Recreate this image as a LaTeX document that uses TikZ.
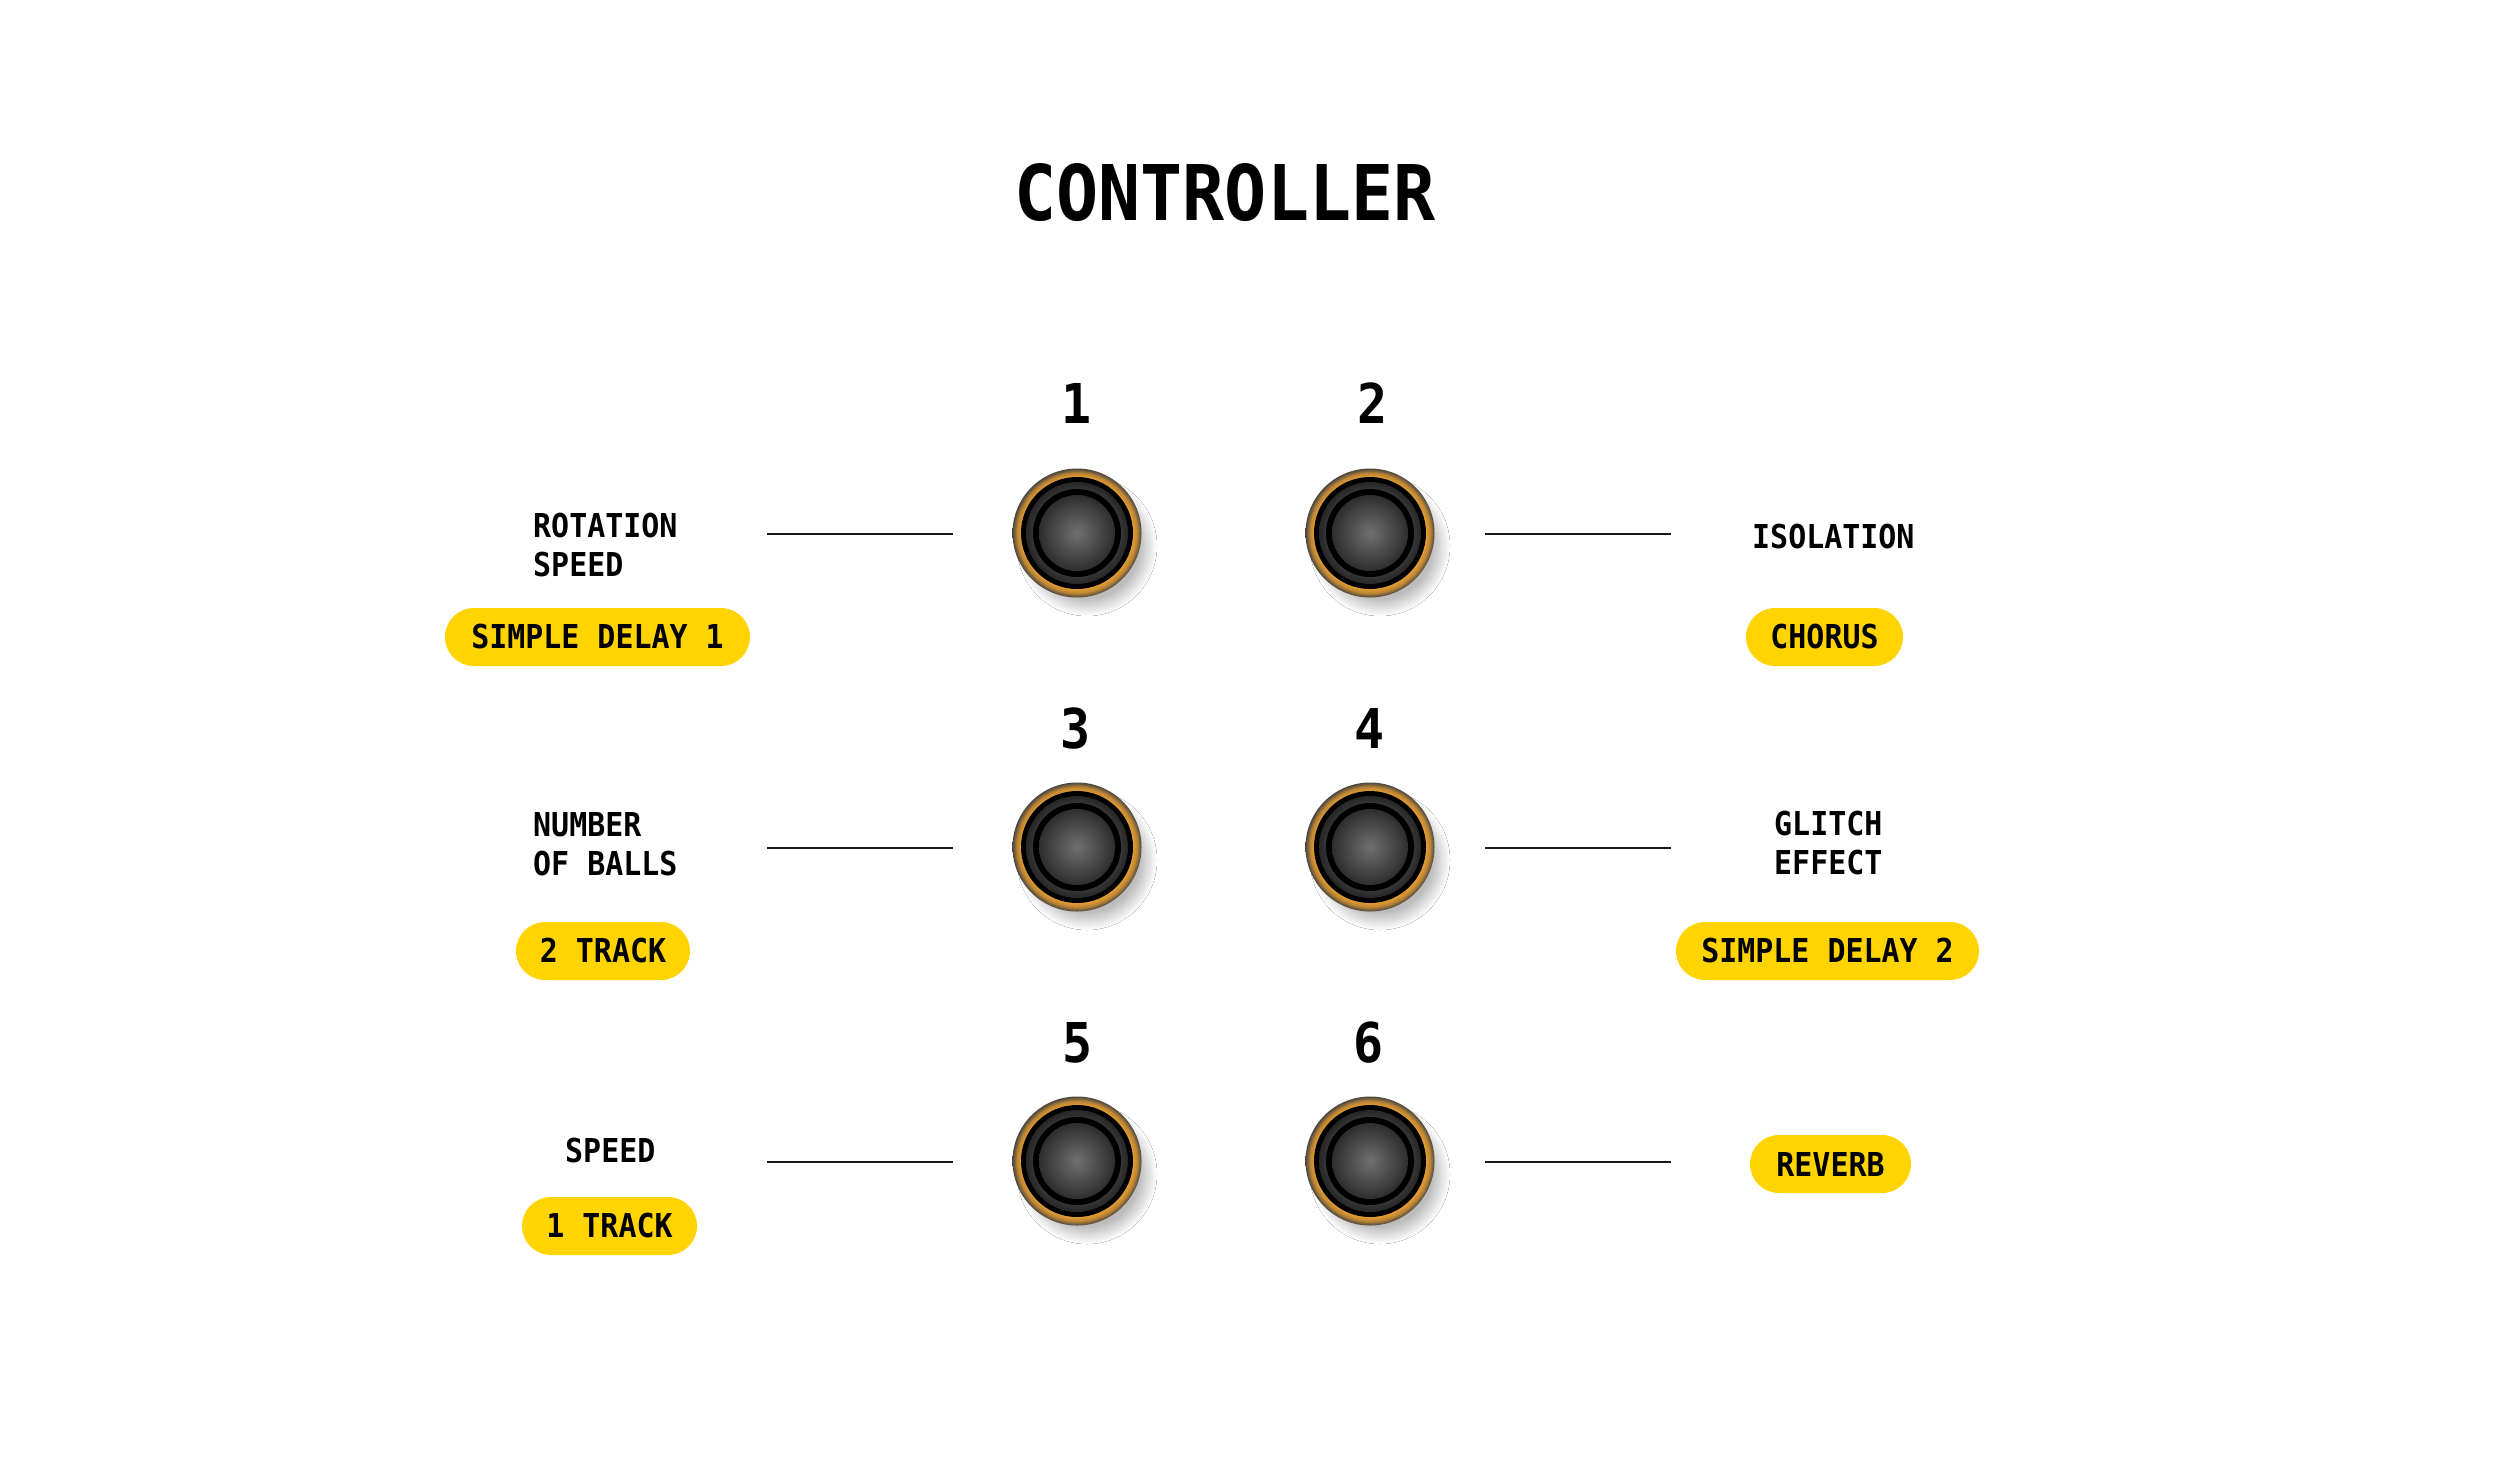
\documentclass[tikz,border=0pt]{standalone}
\usepackage{fontspec}
\newfontfamily\pixfont[FakeStretch=0.91]{DejaVu Sans Mono Bold}
\definecolor{pillyellow}{HTML}{FFD400}
\definecolor{kOr}{HTML}{E9A032}
\definecolor{kOrB}{HTML}{B98434}
\definecolor{kEdge}{HTML}{4A4540}
\definecolor{kMid}{HTML}{3C3C3C}
\definecolor{kCapIn}{HTML}{707070}
\definecolor{kCapOut}{HTML}{2E2E2E}
\pgfdeclareradialshading{knobshadow}{\pgfpoint{0bp}{0bp}}{color(0bp)=(black!28); color(18.5bp)=(black!26); color(25bp)=(white); color(50bp)=(white)}
\pgfdeclareradialshading{knobring}{\pgfpoint{0bp}{0bp}}{color(0bp)=(kOr); color(21.5bp)=(kOr); color(23.3bp)=(kOrB); color(25bp)=(kEdge); color(50bp)=(kEdge)}
\pgfdeclareradialshading{knobmid}{\pgfpoint{0bp}{0bp}}{color(0bp)=(kMid); color(20bp)=(kMid); color(25bp)=(black!85); color(50bp)=(black!85)}
\pgfdeclareradialshading{knobcap}{\pgfpoint{0bp}{0bp}}{color(0bp)=(kCapIn); color(25bp)=(kCapOut); color(50bp)=(kCapOut)}
\tikzset{
  knob/.style={circle, minimum size=129pt, inner sep=0pt, shading=knobring},
  lbl/.style={font=\pixfont\fontsize{32.9}{39}\selectfont, align=left, anchor=west, inner sep=0pt},
  pill/.style={fill=pillyellow, rounded corners=29pt, minimum height=58pt, inner sep=0pt,
               font=\pixfont\fontsize{32.9}{39}\selectfont},
  num/.style={font=\pixfont\fontsize{54.9}{60}\selectfont, inner sep=0pt},
  ttl/.style={font=\pixfont\fontsize{76.8}{80}\selectfont, inner sep=0pt},
  conn/.style={line width=2.6pt, black!90}
}
\newcommand\mkknob[2]{%
  \fill[shading=knobshadow, shift={(10,13)}] (#2) circle[radius=70pt];
  \node[knob] (#1) at (#2) {};
  \fill[black] (#1.center) circle[radius=56pt];
  \fill[shading=knobmid] (#1.center) circle[radius=51pt];
  \fill[black] (#1.center) circle[radius=44pt];
  \fill[shading=knobcap] (#1.center) circle[radius=38pt];
}
\begin{document}
\begin{tikzpicture}[x=1pt,y=-1pt]
\useasboundingbox (0,0) rectangle (2500,1468);
\fill[white] (0,0) rectangle (2500,1468);

\node[ttl] (title) at (1225,193) {CONTROLLER};

% numbers
\node[num] (n1) at (1077,403) {1};
\node[num] (n2) at (1373,403) {2};
\node[num] (n3) at (1076,728.5) {3};
\node[num] (n4) at (1370,728.5) {4};
\node[num] (n5) at (1078,1043) {5};
\node[num] (n6) at (1369,1043) {6};

% knobs
\mkknob{k1}{1077,533}
\mkknob{k2}{1370,533}
\mkknob{k3}{1077,847}
\mkknob{k4}{1370,847}
\mkknob{k5}{1077,1161}
\mkknob{k6}{1370,1161}

% connector ends
\coordinate (l1a) at (767,534);  \coordinate (l1b) at (953,534);
\coordinate (r1a) at (1485,534); \coordinate (r1b) at (1671,534);
\coordinate (l2a) at (767,848);  \coordinate (l2b) at (953,848);
\coordinate (r2a) at (1485,848); \coordinate (r2b) at (1671,848);
\coordinate (l3a) at (767,1162); \coordinate (l3b) at (953,1162);
\coordinate (r3a) at (1485,1162); \coordinate (r3b) at (1671,1162);
\draw[conn] (l1a) -- (l1b);
\draw[conn] (r1a) -- (r1b);
\draw[conn] (l2a) -- (l2b);
\draw[conn] (r2a) -- (r2b);
\draw[conn] (l3a) -- (l3b);
\draw[conn] (r3a) -- (r3b);

% labels
\node[lbl] (t1) at (533,545) {ROTATION\\SPEED};
\node[pill, minimum width=305pt] (p1) at (597.5,637) {SIMPLE DELAY 1};
\node[lbl] (t2) at (1752,536.5) {ISOLATION};
\node[pill, minimum width=157pt] (p2) at (1824.5,637) {CHORUS};
\node[lbl] (t3) at (533,844) {NUMBER\\OF BALLS};
\node[pill, minimum width=174pt] (p3) at (603,951) {2 TRACK};
\node[lbl] (t4) at (1774,843.5) {GLITCH\\EFFECT};
\node[pill, minimum width=303pt] (p4) at (1827.5,951) {SIMPLE DELAY 2};
\node[lbl] (t5) at (565,1151) {SPEED};
\node[pill, minimum width=175pt] (p5) at (609.5,1226) {1 TRACK};
\node[pill, minimum width=161pt] (p6) at (1830.5,1164) {REVERB};
\end{tikzpicture}
\end{document}
